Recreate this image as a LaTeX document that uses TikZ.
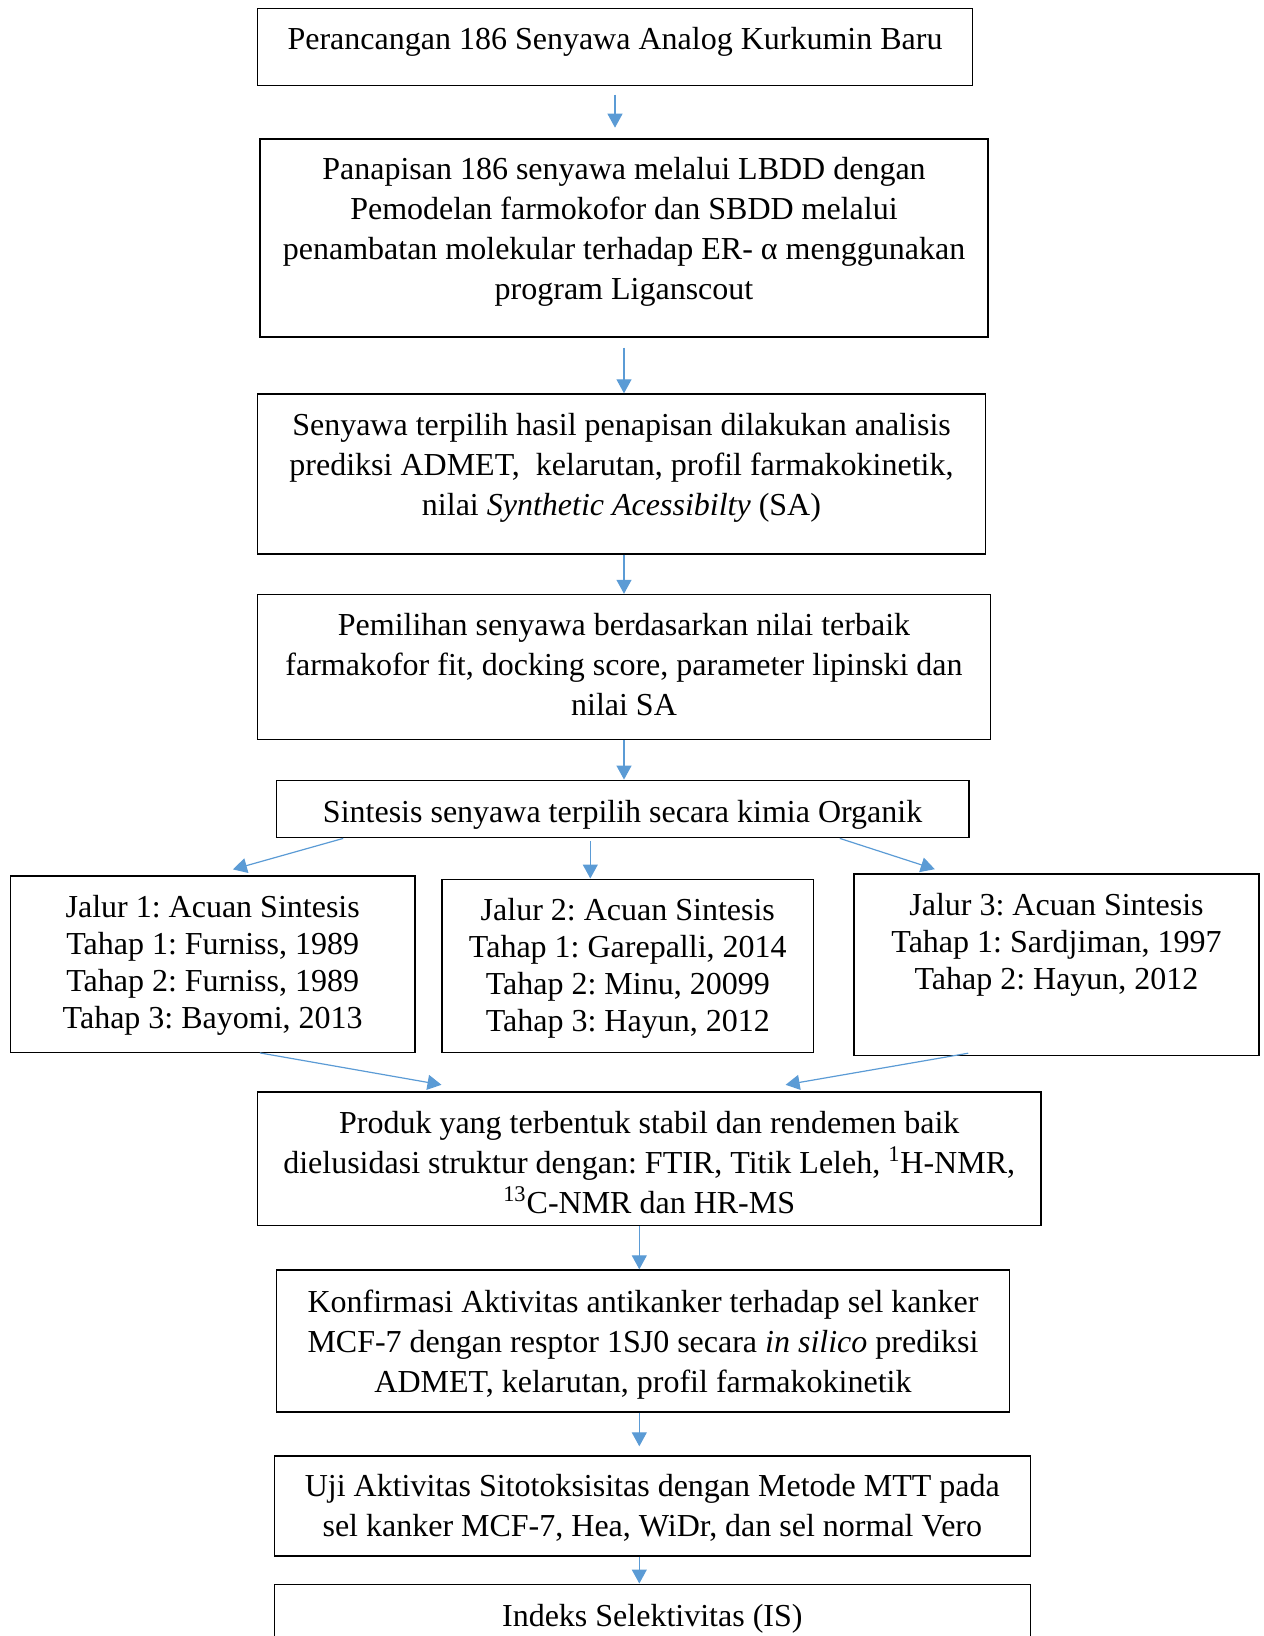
\documentclass[tikz,border=0pt]{standalone}
\usepackage{fontspec}
\setmainfont{Liberation Serif}
\usetikzlibrary{arrows.meta}
\definecolor{arrowblue}{HTML}{5B9BD5}
\frenchspacing
\begin{document}
\begin{tikzpicture}[x=0.5pt,y=-0.5pt,
    box/.style={draw,line width=.7pt,align=center,inner sep=0pt,font=\fontsize{16}{20}\selectfont},
    refbox/.style={box,font=\fontsize{16}{18.5}\selectfont},
    flow/.style={draw=arrowblue,line width=.6pt,-{Triangle[length=7pt,width=7.5pt]}}]
    \useasboundingbox (0,0) rectangle (1263,1636);
    \node[box,minimum width=357.5pt,minimum height=38.5pt,text depth=8.4pt] (plan) at (615,47) {Perancangan 186 Senyawa Analog Kurkumin Baru};
    \node[box,minimum width=364pt,minimum height=99pt,text depth=9.9pt] (screen) at (624,238) {Panapisan 186 senyawa melalui LBDD dengan\\Pemodelan farmokofor dan SBDD melalui\\penambatan molekular terhadap ER- α menggunakan\\program Liganscout};
    \node[box,minimum width=364pt,minimum height=80pt,text depth=9.3pt] (admet) at (621.5,474) {Senyawa terpilih hasil penapisan dilakukan analisis\\prediksi ADMET,~ kelarutan, profil farmakokinetik,\\nilai \textit{Synthetic Acessibilty} (SA)};
    \node[box,minimum width=366.5pt,minimum height=72.5pt,text depth=3.1pt] (select) at (624,667) {Pemilihan senyawa berdasarkan nilai terbaik\\farmakofor fit, docking score, parameter lipinski dan\\nilai SA};
    \node[box,minimum width=346.3pt,minimum height=28.7pt,text height=13pt,text depth=0pt] (synth) at (622.6,809) {Sintesis senyawa terpilih secara kimia Organik};
    \node[refbox,minimum width=202.4pt,minimum height=88.2pt,text depth=2.4pt] (jalur1) at (212.7,964) {Jalur 1: Acuan Sintesis\\Tahap 1: Furniss, 1989\\Tahap 2: Furniss, 1989\\Tahap 3: Bayomi, 2013};
    \node[refbox,minimum width=185.7pt,minimum height=86.5pt,text depth=.4pt] (jalur2) at (627.8,965.7) {Jalur 2: Acuan Sintesis\\Tahap 1: Garepalli, 2014\\Tahap 2: Minu, 20099\\Tahap 3: Hayun, 2012};
    \node[refbox,minimum width=202.4pt,minimum height=90.8pt,text depth=23.8pt] (jalur3) at (1056.5,964.7) {Jalur 3: Acuan Sintesis\\Tahap 1: Sardjiman, 1997\\Tahap 2: Hayun, 2012};
    \node[box,minimum width=391.6pt,minimum height=66.8pt,text height=55.1pt] (product) at (649.2,1158.6) {Produk yang terbentuk stabil dan rendemen baik\\dielusidasi struktur dengan: FTIR, Titik Leleh, \textsuperscript{1}H-NMR,\\\textsuperscript{13}C-NMR dan HR-MS};
    \node[box,minimum width=366.5pt,minimum height=71pt,text depth=0pt] (confirm) at (643,1341) {Konfirmasi Aktivitas antikanker terhadap sel kanker\\MCF-7 dengan resptor 1SJ0 secara \textit{in silico} prediksi\\ADMET, kelarutan, profil farmakokinetik};
    \node[box,minimum width=378pt,minimum height=50pt,text depth=.2pt] (mtt) at (652.3,1506) {Uji Aktivitas Sitotoksisitas dengan Metode MTT pada\\sel kanker MCF-7, Hea, WiDr, dan sel normal Vero};
    \node[box,minimum width=378pt,minimum height=30.4pt,text height=11.8pt,text depth=0pt] (index) at (652.3,1614.6) {Indeks Selektivitas (IS)};
    \draw[flow,shorten <=4.25pt,shorten >=5.3pt] (plan.south) -- (screen.north -| plan.south);
    \draw[flow,shorten <=5pt] (screen.south) -- (screen.south |- admet.north);
    \draw[flow] (admet.south -| select.north) -- (select.north);
    \draw[flow] (select.south) -- (synth.north -| select.south);
    \draw[flow,shorten >=10.5pt] ([xshift=33.8pt]synth.south west) -- (jalur1.north);
    \draw[flow,shorten <=1.5pt] ([xshift=-18.75pt]jalur2.north |- synth.south) -- ([xshift=-18.75pt]jalur2.north);
    \draw[flow] ([xshift=282.1pt]synth.south west) -- ([shift={(40.7pt,2pt)}]jalur3.north west);
    \draw[flow] ([xshift=125.15pt]jalur1.south west) -- ([shift={(92.3pt,3.15pt)}]product.north west);
    \draw[flow] ([shift={(57.4pt,1.5pt)}]jalur3.south west) -- ([shift={(264.35pt,3.15pt)}]product.north west);
    \draw[flow] ([xshift=-1.85pt]confirm.north |- product.south) -- ([xshift=-1.85pt]confirm.north);
    \draw[flow,shorten >=4.5pt] ([xshift=-1.85pt]confirm.south) -- ([xshift=-1.85pt]confirm.south |- mtt.north);
    \draw[flow] ([xshift=-6.5pt]mtt.south) -- ([xshift=-6.5pt]index.north);
\end{tikzpicture}
\end{document}
